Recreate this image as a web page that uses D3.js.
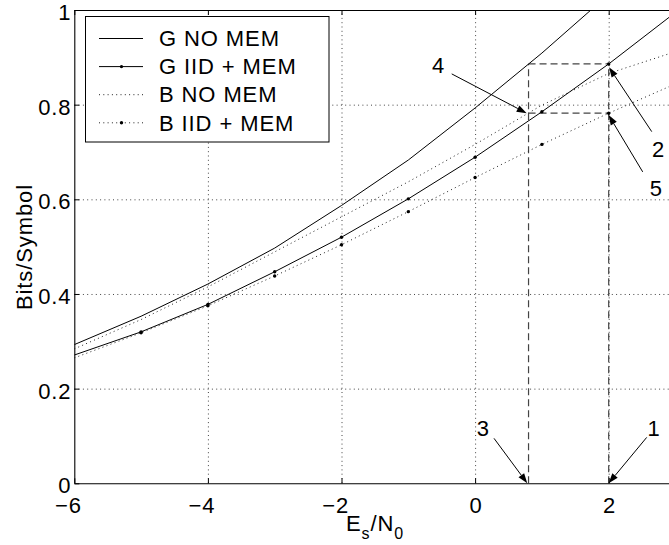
<!DOCTYPE html>
<html>
<head>
<meta charset="utf-8">
<script src="https://cdn.jsdelivr.net/npm/d3@7"></script>
<style>
  html, body { margin: 0; padding: 0; background: #fff; }
  svg { display: block; font-family: "Liberation Sans", Arial, Helvetica, sans-serif; }
  svg text { letter-spacing: 0.9px; }
</style>
</head>
<body>
<svg id="chart" width="669" height="545"></svg>
<script>
// Es/N0 grid (dB) shared by every curve
const snr = [-6, -5, -4, -3, -2, -1, 0, 1, 2, 3];

// Achievable rates in bits/symbol
const gNoMem  = [0.293, 0.353, 0.421, 0.497, 0.587, 0.683, 0.793, 0.909, 1.033, 1.160];
const gIidMem = [0.271, 0.320, 0.378, 0.447, 0.520, 0.601, 0.689, 0.785, 0.886, 0.995];
const bNoMem  = [0.284, 0.346, 0.415, 0.489, 0.563, 0.637, 0.716, 0.799, 0.866, 0.912];
const bIidMem = [0.265, 0.318, 0.375, 0.438, 0.504, 0.574, 0.646, 0.716, 0.782, 0.844];

const seriesNames = ["G NO MEM", "G IID + MEM", "B NO MEM", "B IID + MEM"];

// Axis ticks
const xTicks = [-6, -4, -2, 0, 2];
const yTicks = [0, 0.2, 0.4, 0.6, 0.8, 1];

// Operating points compared at equal rate
const refSnr = 2;          // dB, with memory
const equalRateSnr = 0.8;  // dB, without memory

// Numbered call-outs: arrow tip, arrow tail and label anchor, in data units
const calloutLabels = ["1", "2", "3", "4", "5"];
const calloutTips   = [[1.999, 0], [2.005, 0.879], [0.781, 0], [0.772, 0.782], [1.999, 0.778]];
const calloutTails  = [[2.569, 0.097], [2.644, 0.743], [0.283, 0.095], [-0.35, 0.865], [2.509, 0.658]];
const calloutText   = [[2.671, 0.100], [2.738, 0.690], [0.118, 0.100], [-0.555, 0.866], [2.708, 0.608]];

const svg = d3.select("#chart");
const FONT = 22;

const x = d3.scaleLinear().domain([-6, 3]).range([74.3, 675.5]);
const y = d3.scaleLinear().domain([0, 1]).range([483.3, 10]);

svg.append("defs").append("clipPath").attr("id", "plotClip")
  .append("rect")
  .attr("x", x(-6)).attr("y", y(1))
  .attr("width", x(3) - x(-6)).attr("height", y(0) - y(1));

// white plot background
svg.append("rect")
  .attr("x", x(-6)).attr("y", y(1))
  .attr("width", x(3) - x(-6)).attr("height", y(0) - y(1))
  .attr("fill", "#fff");

// dotted grid
const grid = svg.append("g").attr("stroke", "#444").attr("stroke-width", 1)
  .attr("stroke-dasharray", "1,3.3").attr("fill", "none");
grid.selectAll("line.gx").data(xTicks.filter(d => d > -6)).join("line")
  .attr("x1", d => x(d) + 0.5).attr("x2", d => x(d) + 0.5)
  .attr("y1", y(0)).attr("y2", y(1));
grid.selectAll("line.gy").data(yTicks.filter(d => d > 0 && d < 1)).join("line")
  .attr("y1", d => y(d) + 0.5).attr("y2", d => y(d) + 0.5)
  .attr("x1", x(-6)).attr("x2", x(3));

// equal-rate guide lines
const gRef = gIidMem[snr.indexOf(refSnr)];
const bRef = bIidMem[snr.indexOf(refSnr)];
const guides = [
  [[refSnr, 0], [refSnr, gRef]],
  [[equalRateSnr, 0], [equalRateSnr, gRef]],
  [[equalRateSnr, gRef], [refSnr, gRef]],
  [[equalRateSnr, bRef], [refSnr, bRef]]
];
svg.append("g").selectAll("line").data(guides).join("line")
  .attr("x1", d => x(d[0][0])).attr("y1", d => y(d[0][1]))
  .attr("x2", d => x(d[1][0])).attr("y2", d => y(d[1][1]))
  .attr("stroke", "#444").attr("stroke-width", 1.2)
  .attr("stroke-dasharray", "7,4");

// curves
const series = [
  { name: seriesNames[0], values: gNoMem,  dotted: false, markers: false },
  { name: seriesNames[1], values: gIidMem, dotted: false, markers: true },
  { name: seriesNames[2], values: bNoMem,  dotted: true,  markers: false },
  { name: seriesNames[3], values: bIidMem, dotted: true,  markers: true }
];
const line = d3.line().x(d => x(d[0])).y(d => y(d[1]));
const plot = svg.append("g").attr("clip-path", "url(#plotClip)");
series.forEach(s => {
  const pts = snr.map((v, i) => [v, s.values[i]]);
  plot.append("path").datum(pts)
    .attr("d", line)
    .attr("fill", "none")
    .attr("stroke", s.dotted ? "#222" : "#000")
    .attr("stroke-width", 1)
    .attr("stroke-dasharray", s.dotted ? "1,3.3" : null);
  if (s.markers) {
    plot.append("g").selectAll("circle").data(pts.filter(p => p[0] > -6)).join("circle")
      .attr("cx", d => x(d[0])).attr("cy", d => y(d[1]))
      .attr("r", 1.7).attr("fill", "#000");
  }
});

// axes (ticks pointing inward)
const fmtX = d3.format("d");
const fmtY = d3.format("~g");
const digitHalf = 0.556 * FONT / 2 + 0.9;

const gx = svg.append("g").attr("transform", `translate(0,${y(0)})`)
  .call(d3.axisBottom(x).tickValues(xTicks).tickFormat(fmtX)
    .tickSizeInner(-5).tickSizeOuter(0).tickPadding(14.5));
gx.selectAll(".tick text").attr("text-anchor", "end").attr("x", digitHalf);

const gy = svg.append("g").attr("transform", `translate(${x(-6)},0)`)
  .call(d3.axisLeft(y).tickValues(yTicks).tickFormat(fmtY)
    .tickSizeInner(-5).tickSizeOuter(0).tickPadding(2.8));
gy.selectAll(".tick text").attr("dy", "0.43em");

const gt = svg.append("g").attr("transform", `translate(0,${y(1)})`)
  .call(d3.axisTop(x).tickValues(xTicks).tickFormat("").tickSizeInner(-5).tickSizeOuter(0));
const gr = svg.append("g").attr("transform", `translate(${x(3)},0)`)
  .call(d3.axisRight(y).tickValues(yTicks).tickFormat("").tickSizeInner(-5).tickSizeOuter(0));

[gx, gy, gt, gr].forEach(g => {
  g.attr("font-family", null).attr("font-size", FONT);
  g.selectAll("path.domain").attr("stroke", "#000").attr("stroke-width", 1.1);
  g.selectAll(".tick line").attr("stroke", "#000");
  g.selectAll(".tick text").attr("fill", "#000");
});

// axis titles
const xt = svg.append("text")
  .attr("x", 375).attr("y", 531)
  .attr("text-anchor", "middle").attr("font-size", FONT).attr("fill", "#000");
xt.append("tspan").text("E");
xt.append("tspan").attr("font-size", 16).attr("dy", 8).text("s");
xt.append("tspan").attr("dy", -8).text("/N");
xt.append("tspan").attr("font-size", 16).attr("dy", 8).text("0");

svg.append("text")
  .attr("transform", "translate(31.5,247) rotate(-90)")
  .attr("text-anchor", "middle").attr("font-size", FONT).attr("fill", "#000")
  .text("Bits/Symbol");

// call-out arrows
const callouts = calloutLabels.map((label, i) => ({
  label, tip: calloutTips[i], tail: calloutTails[i], text: calloutText[i]
}));
const ann = svg.append("g");
callouts.forEach(c => {
  const tx = x(c.tail[0]), ty = y(c.tail[1]);
  const px = x(c.tip[0]),  py = y(c.tip[1]);
  const len = Math.hypot(px - tx, py - ty);
  const ux = (px - tx) / len, uy = (py - ty) / len;
  const L = 10, W = 3.5;
  const bx = px - L * ux, by = py - L * uy;
  ann.append("line")
    .attr("x1", tx).attr("y1", ty).attr("x2", bx).attr("y2", by)
    .attr("stroke", "#000").attr("stroke-width", 1);
  ann.append("path")
    .attr("d", `M${px},${py}L${bx - W * uy},${by + W * ux}L${bx + W * uy},${by - W * ux}Z`)
    .attr("fill", "#000");
  ann.append("text")
    .attr("x", x(c.text[0]) + 0.45).attr("y", y(c.text[1]))
    .attr("text-anchor", "middle").attr("font-size", FONT).attr("fill", "#000")
    .text(c.label);
});

// legend
const lg = svg.append("g");
lg.append("rect").attr("x", 85.5).attr("y", 16.5).attr("width", 243.5).attr("height", 125.5)
  .attr("fill", "#fff").attr("stroke", "#000").attr("stroke-width", 1);
series.forEach((s, i) => {
  const cy = 38.5 + i * 28.1;
  lg.append("line").attr("x1", 99).attr("x2", 143).attr("y1", cy).attr("y2", cy)
    .attr("stroke", s.dotted ? "#222" : "#000").attr("stroke-width", 1)
    .attr("stroke-dasharray", s.dotted ? "1,3.3" : null);
  if (s.markers) {
    lg.append("circle").attr("cx", 121.5).attr("cy", cy).attr("r", 1.7).attr("fill", "#000");
  }
  lg.append("text").attr("x", 159).attr("y", cy + 7.7)
    .attr("font-size", FONT).attr("fill", "#000").text(s.name);
});
</script>
</body>
</html>
